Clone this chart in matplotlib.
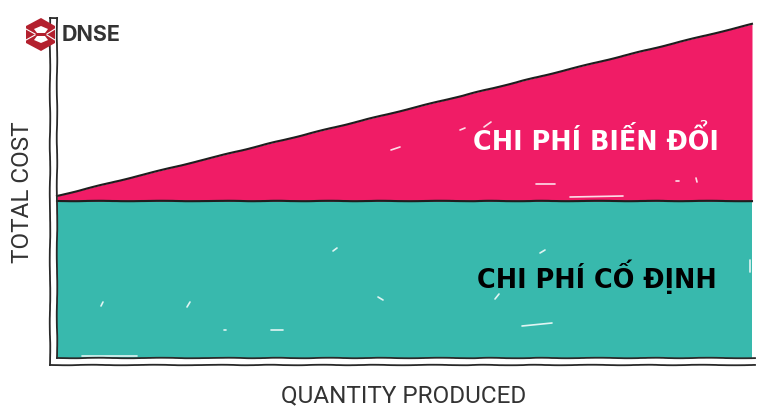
"""
Total cost chart: fixed cost + variable cost against quantity produced
"""
import matplotlib.pyplot as plt
from matplotlib.patches import Polygon

# Data (units are arbitrary, origin is the chart corner)
quantity = [0, 695]
fixed_cost = [157, 157]
total_cost = [162, 334]

# White scratches: x start, x end, y start, y end
scratch_x0 = [334, 513, 479, 619, 639, 403, 483, 438, 44, 130, 167, 214, 321, 465, 276, 693, 25, 427]
scratch_x1 = [343, 566, 498, 622, 640, 408, 488, 442, 46, 133, 169, 226, 326, 495, 280, 693, 80, 434]
scratch_y0 = [208, 161, 174, 177, 180, 228, 105, 59, 52, 51, 28, 28, 61, 32, 107, 86, 2, 231]
scratch_y1 = [211, 162, 174, 177, 176, 230, 108, 64, 56, 56, 28, 28, 58, 35, 110, 98, 2, 236]

plt.rcParams['font.family'] = ['Open Sans', 'DejaVu Sans']

fig = plt.figure(figsize=(7.68, 4.19), dpi=100)
ax = fig.add_axes([0, 0, 1, 1])
ax.set_xlim(-57, 711)
ax.set_ylim(-61, 358)
ax.axis('off')

# Filled areas
ax.fill_between(quantity, 0, fixed_cost, color='#38B9AD', lw=0, zorder=1)
ax.fill_between(quantity, fixed_cost, total_cost, color='#F01C66', lw=0, zorder=1)

# Scratches on the paint
for x0, x1, y0, y1 in zip(scratch_x0, scratch_x1, scratch_y0, scratch_y1):
    ax.plot([x0, x1], [y0, y1], color='white', lw=1.2, alpha=0.85,
            solid_capstyle='round', zorder=2)

# Boundary lines
ink = '#1E1E1E'
for line_y in (fixed_cost, total_cost):
    line, = ax.plot(quantity, line_y, color=ink, lw=1.5, zorder=3)
    line.set_sketch_params(scale=0.2, length=80, randomness=4)

# Hand drawn double axes
axis_lines = [
    ([-7, -7], [-7, 340]),
    ([0, 0], [0, 340]),
    ([-7, 698], [-7, -7]),
    ([0, 698], [0, 0]),
    ([-7, 0], [340, 340]),
]
for xs, ys in axis_lines:
    line, = ax.plot(xs, ys, color='#2A2A2A', lw=1.3, zorder=4)
    line.set_sketch_params(scale=0.25, length=80, randomness=4)

# Labels
ax.text(539, 217, 'CHI PHÍ BIẾN ĐỔI', color='white', fontsize=18.4, fontweight='bold',
        family=['DejaVu Sans'], ha='center', va='center', zorder=5)
ax.text(540, 81, 'CHI PHÍ CỐ ĐỊNH', color='black', fontsize=18.4, fontweight='bold',
        family=['DejaVu Sans'], ha='center', va='center', zorder=5)
ax.text(347, -38, 'QUANTITY PRODUCED', color='#333333', fontsize=17.5,
        family=['Roboto', 'DejaVu Sans'], ha='center', va='center')
ax.text(-34, 166, 'TOTAL COST', color='#333333', fontsize=17.5, rotation=90,
        family=['Roboto', 'DejaVu Sans'], ha='center', va='center')

# Logo
red = '#B3202E'
hexagon = [(-16, 340), (-2, 332), (-2, 315), (-16, 307), (-31, 315), (-31, 332)]
ax.add_patch(Polygon(hexagon, closed=True, color=red, lw=0, zorder=6))
ax.add_patch(Polygon([(-23, 329), (-16, 332), (-9, 329), (-12, 325), (-20, 325)],
                     closed=True, color='white', lw=0, zorder=7))
ax.add_patch(Polygon([(-20, 322), (-12, 322), (-9, 318), (-16, 315), (-23, 318)],
                     closed=True, color='white', lw=0, zorder=7))
ax.plot([-31, -22], [329, 324], color='white', lw=0.8, zorder=8)
ax.plot([-31, -22], [318, 323], color='white', lw=0.8, zorder=8)
ax.plot([-2, -10], [329, 324], color='white', lw=0.8, zorder=8)
ax.plot([-2, -10], [318, 323], color='white', lw=0.8, zorder=8)
ax.text(5, 323, 'DNSE', color='#333333', fontsize=15.5, fontweight='bold',
        family=['Inter', 'DejaVu Sans'], ha='left', va='center', zorder=6)

plt.savefig('out.png', dpi=100)
plt.close()
